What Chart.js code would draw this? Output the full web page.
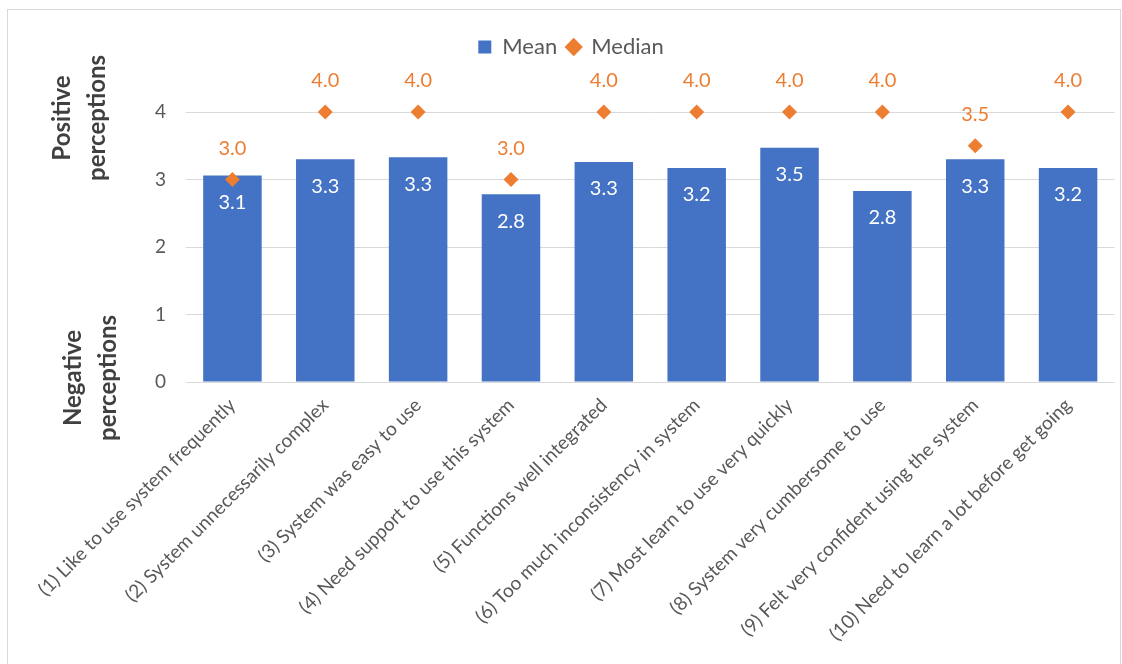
<!DOCTYPE html>
<html>
<head>
<meta charset="utf-8">
<script src="https://cdn.jsdelivr.net/npm/chart.js@4.4.0/dist/chart.umd.min.js"></script>
<style>
  html, body { margin: 0; padding: 0; background: #fff; }
  #wrap { width: 1122px; height: 664px; }
</style>
</head>
<body>
<div id="wrap"><canvas id="myChart" width="1122" height="664"></canvas></div>
<script>
const labels = [
  "(1) Like to use system frequently",
  "(2) System unnecessarily complex",
  "(3) System was easy to use",
  "(4) Need support to use this system",
  "(5) Functions well integrated",
  "(6) Too much inconsistency in system",
  "(7) Most learn to use very quickly",
  "(8) System very cumbersome to use",
  "(9) Felt very confident using the system",
  "(10) Need to learn a lot before get going",
];
const meanValues = [3.06, 3.30, 3.33, 2.78, 3.26, 3.17, 3.47, 2.83, 3.30, 3.17];
const medianValues = [3.0, 4.0, 4.0, 3.0, 4.0, 4.0, 4.0, 4.0, 3.5, 4.0];
const yTicks = [0, 1, 2, 3, 4];
const axisTitleTop = ["Positive", "perceptions"];
const axisTitleBottom = ["Negative", "perceptions"];

const blue = "#4472C4";
const orange = "#ED7D31";
const gray = "#595959";
const font = "Lato";

// push the plot down below the legend
const legendMargin = {
  id: "legendMargin",
  beforeInit(chart) {
    const fitValue = chart.legend.fit;
    chart.legend.fit = function fit() {
      fitValue.bind(chart.legend)();
      this.height += 44;
    };
  },
};

const frame = {
  id: "frame",
  beforeDraw(chart) {
    const ctx = chart.ctx;
    ctx.save();
    ctx.fillStyle = "#fff";
    ctx.fillRect(0, 0, chart.width, chart.height);
    ctx.strokeStyle = "#d9d9d9";
    ctx.lineWidth = 1;
    ctx.strokeRect(7.5, 9.5, 1113, 700);
    ctx.restore();
  },
};

const valueLabels = {
  id: "valueLabels",
  afterDatasetsDraw(chart) {
    const ctx = chart.ctx;
    ctx.save();
    ctx.textAlign = "center";
    ctx.textBaseline = "middle";
    ctx.font = "20px " + font;
    chart.getDatasetMeta(0).data.forEach((bar, i) => {
      ctx.fillStyle = "#fff";
      ctx.fillText(meanValues[i].toFixed(1), bar.x, bar.y + 27);
    });
    chart.getDatasetMeta(1).data.forEach((pt, i) => {
      ctx.fillStyle = orange;
      ctx.fillText(medianValues[i].toFixed(1), pt.x, pt.y - 31);
    });
    ctx.restore();
  },
};

function drawRotated(ctx, lines, cx, cy) {
  ctx.save();
  ctx.translate(cx, cy);
  ctx.rotate(-Math.PI / 2);
  ctx.textAlign = "center";
  ctx.textBaseline = "middle";
  ctx.fillText(lines[0], 0, -17.5);
  ctx.fillText(lines[1], 0, 17.5);
  ctx.restore();
}

const axisTitles = {
  id: "axisTitles",
  afterDraw(chart) {
    const ctx = chart.ctx;
    ctx.save();
    ctx.fillStyle = "#404040";
    ctx.font = "bold 24px " + font;
    drawRotated(ctx, axisTitleTop, 79.5, 118);
    drawRotated(ctx, axisTitleBottom, 90.5, 378);
    ctx.restore();
  },
};

const ctx = document.getElementById("myChart").getContext("2d");
new Chart(ctx, {
  type: "bar",
  data: {
    labels: labels,
    datasets: [
      {
        type: "bar",
        label: "Mean",
        data: meanValues,
        backgroundColor: blue,
        barPercentage: 0.63,
        categoryPercentage: 1,
        pointStyle: "rect",
        order: 2,
      },
      {
        type: "line",
        label: "Median",
        data: medianValues,
        showLine: false,
        pointStyle: "rectRot",
        pointRadius: 7.5,
        backgroundColor: orange,
        borderColor: orange,
        borderWidth: 0,
        clip: false,
        order: 1,
      },
    ],
  },
  options: {
    responsive: false,
    animation: false,
    layout: { padding: { left: 24, right: 4, top: 26, bottom: 0 } },
    plugins: {
      legend: {
        position: "top",
        labels: {
          usePointStyle: true,
          boxWidth: 13,
          boxHeight: 13,
          color: gray,
          font: { family: font, size: 22 },
          padding: 10,
          sort: (a, b) => a.datasetIndex - b.datasetIndex,
        },
      },
      tooltip: { enabled: false },
    },
    scales: {
      x: {
        grid: { display: false },
        border: { display: false },
        ticks: {
          maxRotation: 45,
          minRotation: 45,
          color: gray,
          font: { family: font, size: 19 },
          padding: 4,
        },
        afterFit(scale) {
          scale.height = 282;
        },
      },
      y: {
        min: 0,
        max: 4,
        afterBuildTicks(scale) {
          scale.ticks = yTicks.map((v) => ({ value: v }));
        },
        ticks: {
          color: gray,
          font: { family: font, size: 19 },
          padding: 20,
        },
        grid: { color: "#d9d9d9", drawTicks: false },
        border: { display: false },
        afterFit(scale) {
          scale.width = 162;
        },
      },
    },
  },
  plugins: [legendMargin, frame, valueLabels, axisTitles],
});
</script>
</body>
</html>
